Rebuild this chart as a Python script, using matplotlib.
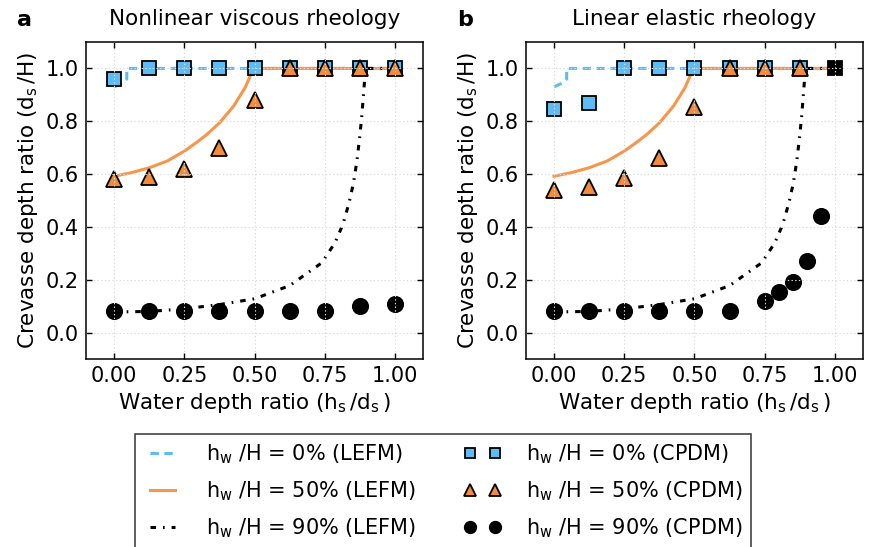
import matplotlib
matplotlib.use("Agg")
import matplotlib.pyplot as plt

# crack depth ratios from the figure
x_cpdm = [0.0, 0.125, 0.25, 0.375, 0.5, 0.625, 0.75, 0.875, 1.0]

# panel a: nonlinear viscous
a_sq = [0.96, 1.0, 1.0, 1.0, 1.0, 1.0, 1.0, 1.0, 1.0]
a_tri = [0.58, 0.59, 0.62, 0.70, 0.88, 1.0, 1.0, 1.0, 1.0]
a_circ = [0.08, 0.08, 0.08, 0.08, 0.08, 0.08, 0.08, 0.10, 0.11]

# panel b: linear elastic
b_x = [0.0, 0.125, 0.25, 0.375, 0.5, 0.625, 0.75, 0.875]
b_sq = [0.845, 0.87, 1.0, 1.0, 1.0, 1.0, 1.0, 1.0]
b_tri = [0.54, 0.55, 0.585, 0.66, 0.855, 1.0, 1.0, 1.0]
b_circ_x = [0.0, 0.125, 0.25, 0.375, 0.5, 0.625, 0.75, 0.8, 0.85, 0.9, 0.95]
b_circ = [0.08, 0.08, 0.08, 0.08, 0.08, 0.08, 0.12, 0.155, 0.19, 0.27, 0.44]
b_end_x = [1.0]
b_end_y = [1.0]

# LEFM curves (same in both panels)
lefm0_x = [0.0, 0.03, 0.045, 0.045, 1.0]
lefm0_y = [0.93, 0.945, 0.96, 1.0, 1.0]
lefm50_x = [0.0, 0.06, 0.125, 0.19, 0.25, 0.3, 0.33, 0.375, 0.425, 0.466, 0.496, 1.0]
lefm50_y = [0.592, 0.605, 0.624, 0.65, 0.687, 0.725, 0.75, 0.794, 0.857, 0.927, 1.0, 1.0]
lefm90_x = [0.0, 0.125, 0.25, 0.375, 0.5, 0.625, 0.739, 0.786, 0.814, 0.836,
            0.852, 0.864, 0.873, 0.881, 0.887, 0.893, 0.896, 1.0]
lefm90_y = [0.078, 0.08, 0.09, 0.106, 0.128, 0.178, 0.264, 0.34, 0.409, 0.491,
            0.567, 0.649, 0.731, 0.813, 0.895, 0.977, 1.0, 1.0]

blue = '#5bbcf6'
orange = '#f7954a'
orange_mk = '#f28c3b'

labels = [r'h$_\mathregular{w}$ /H = 0% (LEFM)',
          r'h$_\mathregular{w}$ /H = 50% (LEFM)',
          r'h$_\mathregular{w}$ /H = 90% (LEFM)',
          r'h$_\mathregular{w}$ /H = 0% (CPDM)',
          r'h$_\mathregular{w}$ /H = 50% (CPDM)',
          r'h$_\mathregular{w}$ /H = 90% (CPDM)']

plt.rcParams['font.family'] = 'DejaVu Sans'
plt.rcParams['mathtext.default'] = 'regular'
plt.rcParams['lines.scale_dashes'] = False

fig = plt.figure(figsize=(8.78, 5.47), dpi=100)
ax_a = fig.add_axes([0.098, 0.3437, 0.384, 0.5795])
ax_b = fig.add_axes([0.599, 0.3437, 0.384, 0.5795])


def draw_lefm(ax):
    l0, = ax.plot(lefm0_x, lefm0_y, color=blue, lw=2.2, linestyle=(0, (6, 4)))
    l50, = ax.plot(lefm50_x, lefm50_y, color=orange, lw=2.2)
    l90, = ax.plot(lefm90_x, lefm90_y, color='black', lw=2.2,
                   linestyle=(0, (4, 5, 1.2, 5)))
    return [l0, l50, l90]


def style_axes(ax, title, letter, lx):
    ax.set_xlim(-0.1, 1.1)
    ax.set_ylim(-0.1, 1.1)
    ax.set_xticks([0.0, 0.25, 0.5, 0.75, 1.0])
    ax.set_xticklabels(['0.00', '0.25', '0.50', '0.75', '1.00'])
    ax.set_yticks([0.0, 0.2, 0.4, 0.6, 0.8, 1.0])
    ax.set_yticklabels(['0.0', '0.2', '0.4', '0.6', '0.8', '1.0'])
    ax.tick_params(direction='in', top=True, right=True, length=4.5, width=1,
                   labelsize=15, pad=5)
    ax.grid(True, color='#dcdcdc', linestyle=':', linewidth=0.8)
    ax.set_axisbelow(False)
    for s in ax.spines.values():
        s.set_linewidth(1.1)
    ax.set_title(title, fontsize=15.5, pad=12)
    ax.set_xlabel(r'Water depth ratio $\left(\mathregular{h_s\,/d_s\,}\right)$', fontsize=15.5)
    ax.set_ylabel(r'Crevasse depth ratio $\left(\mathregular{d_s\,/H}\right)$', fontsize=15.5)
    fig.text(lx, 1 - 26 / 547, letter, fontsize=16, fontweight='bold')


mk = dict(linestyle='none', markeredgecolor='black', markeredgewidth=1.3)

# panel a
lines = draw_lefm(ax_a)
sq, = ax_a.plot(x_cpdm, a_sq, marker='s', markersize=10, markerfacecolor=blue, **mk)
tri, = ax_a.plot(x_cpdm, a_tri, marker='^', markersize=11, markerfacecolor=orange_mk, **mk)
circ, = ax_a.plot(x_cpdm, a_circ, marker='o', markersize=11, markerfacecolor='black', **mk)
style_axes(ax_a, 'Nonlinear viscous rheology', 'a', 17 / 878)

# panel b
draw_lefm(ax_b)
ax_b.plot(b_x, b_sq, marker='s', markersize=10, markerfacecolor=blue, **mk)
ax_b.plot(b_x, b_tri, marker='^', markersize=11, markerfacecolor=orange_mk, **mk)
ax_b.plot(b_circ_x, b_circ, marker='o', markersize=11, markerfacecolor='black', **mk)
ax_b.plot(b_end_x, b_end_y, marker='s', markersize=10, markerfacecolor='black', **mk)
style_axes(ax_b, 'Linear elastic rheology', 'b', 457 / 878)

leg = fig.legend(lines + [sq, tri, circ], labels, ncol=2, loc='upper center',
                 bbox_to_anchor=(0.5046, 0.2066), fontsize=15, numpoints=2,
                 markerscale=0.75, fancybox=False, edgecolor='black',
                 handlelength=1.8, handletextpad=1.2, columnspacing=2.3,
                 labelspacing=0.65, borderpad=0.4, borderaxespad=0)
leg.get_frame().set_linewidth(1.1)

fig.savefig('out.png', dpi=100)
